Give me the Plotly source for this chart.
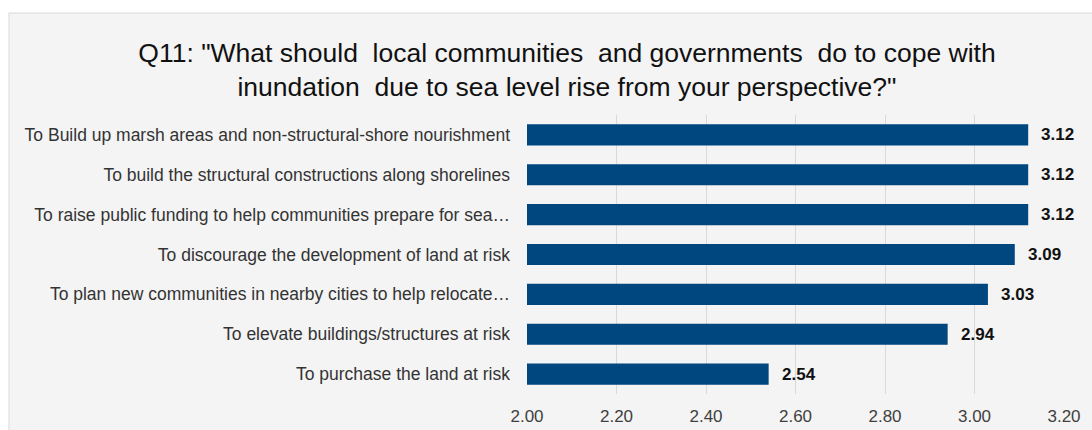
import plotly.graph_objects as go

# Survey responses, top to bottom as displayed
categories = [
    "To Build up marsh areas and non-structural-shore nourishment",
    "To build the structural constructions along shorelines",
    "To raise public funding to help communities prepare for sea…",
    "To discourage the development of land at risk",
    "To plan new communities in nearby cities to help relocate…",
    "To elevate buildings/structures at risk",
    "To purchase the land at risk",
]
scores = [3.12, 3.12, 3.12, 3.09, 3.03, 2.94, 2.54]
tick_values = [2.00, 2.20, 2.40, 2.60, 2.80, 3.00, 3.20]
tick_labels = ["2.00", "2.20", "2.40", "2.60", "2.80", "3.00", "3.20"]
AXIS_MIN = 2.0

W, H = 1092, 430
M_L, M_R, M_T, M_B = 527, 28, 115, 36
BAR = "#00467f"
PANEL = "#f4f4f4"
FONT = "Liberation Sans, Arial, sans-serif"

fig = go.Figure()
# bar lengths measured from the axis minimum
fig.add_trace(go.Bar(
    x=[v - AXIS_MIN for v in scores],
    y=categories,
    orientation="h",
    marker=dict(color=BAR, line=dict(width=0)),
    width=0.53,
    hoverinfo="skip",
))

for cat, v in zip(categories, scores):
    fig.add_annotation(
        x=v - AXIS_MIN, y=cat, xref="x", yref="y",
        text=f"<b>{v:.2f}</b>", showarrow=False,
        xanchor="left", xshift=11,
        font=dict(family=FONT, size=17, color="#111111"),
    )

pw = W - M_L - M_R
ph = H - M_T - M_B
# light grey card behind the whole chart
fig.add_shape(
    type="rect", xref="paper", yref="paper", layer="below",
    x0=(9 - M_L) / pw, x1=(W + 10 - M_L) / pw,
    y0=-(M_B + 10) / ph, y1=(H - 13 - M_B) / ph,
    fillcolor=PANEL, line=dict(color="#d9d9d9", width=1),
)

fig.update_layout(
    width=W, height=H,
    margin=dict(l=M_L, r=M_R, t=M_T, b=M_B, pad=0, autoexpand=False),
    paper_bgcolor="white",
    plot_bgcolor=PANEL,
    showlegend=False,
    title=dict(
        text='Q11: "What should  local communities  and governments  do to cope with<br>inundation  due to sea level rise from your perspective?"',
        x=567 / W, xanchor="center", xref="container",
        y=1 - 62 / H, yanchor="top", yref="container",
        font=dict(family=FONT, size=26.5, color="#111111"),
    ),
    xaxis=dict(
        range=[0.0, 1.2],
        tickvals=[t - AXIS_MIN for t in tick_values], ticktext=tick_labels,
        showgrid=True, gridcolor="#d9d9d9", gridwidth=1,
        zeroline=False, showline=False, automargin=False,
        ticks="", ticklabelstandoff=10,
        tickfont=dict(family=FONT, size=17, color="#404040"),
    ),
    yaxis=dict(
        categoryorder="array", categoryarray=categories[::-1],
        showgrid=False, zeroline=False, showline=False, automargin=False,
        ticks="", ticklabelstandoff=16,
        tickfont=dict(family=FONT, size=17.5, color="#333333"),
    ),
)

fig.write_html("out.html")
